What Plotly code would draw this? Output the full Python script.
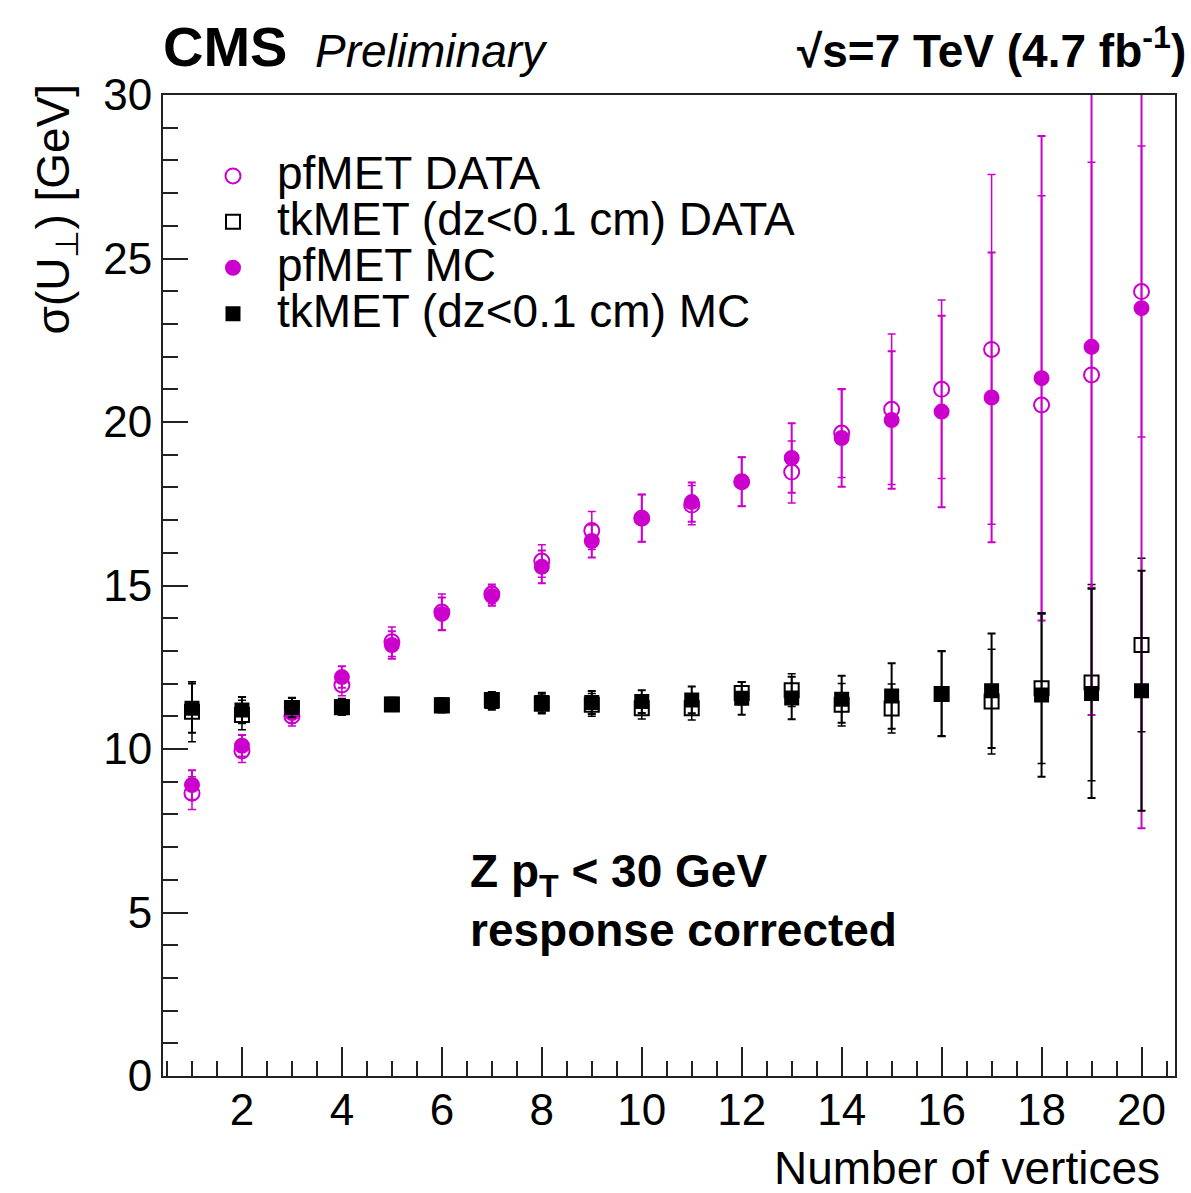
import plotly.graph_objects as go

# ---------------- data ----------------
n_vertices = list(range(1, 21))

pf_data = [8.65, 9.94, 11.0, 11.96, 13.28, 14.19, 14.74, 15.75, 16.68, 17.06,
           17.46, 18.17, 18.47, 19.66, 20.39, 21.0, 22.22, 20.52, 21.44, 23.99]
pf_data_err = [0.5, 0.35, 0.3, 0.33, 0.45, 0.55, 0.3, 0.5, 0.58, 0.72,
               0.6, 0.75, 0.95, 1.36, 2.3, 2.73, 5.35, 6.4, 6.5, 4.45]

pf_mc = [8.9, 10.1, 11.1, 12.2, 13.18, 14.13, 14.68, 15.57, 16.36, 17.06,
         17.55, 18.17, 18.9, 19.51, 20.06, 20.32, 20.75, 21.34, 22.3, 23.48]
pf_mc_err = [0.45, 0.33, 0.3, 0.33, 0.42, 0.5, 0.3, 0.5, 0.5, 0.72,
             0.6, 0.75, 1.06, 1.49, 2.1, 2.93, 4.43, 7.41, 11.26, 15.9]

tk_data = [11.14, 11.04, 11.25, 11.28, 11.36, 11.33, 11.5, 11.38, 11.35, 11.25,
           11.25, 11.71, 11.8, 11.35, 11.24, 11.68, 11.45, 11.86, 12.03, 13.18]
tk_data_err = [0.92, 0.45, 0.3, 0.25, 0.2, 0.22, 0.25, 0.3, 0.35, 0.33,
               0.36, 0.35, 0.5, 0.65, 0.75, 1.3, 1.6, 2.3, 3.0, 2.65]

tk_mc = [11.25, 11.19, 11.27, 11.29, 11.37, 11.35, 11.45, 11.42, 11.42, 11.45,
         11.5, 11.55, 11.56, 11.52, 11.62, 11.7, 11.78, 11.65, 11.7, 11.78]
tk_mc_err = [0.75, 0.4, 0.3, 0.25, 0.2, 0.2, 0.25, 0.3, 0.35, 0.35,
             0.41, 0.5, 0.65, 0.72, 1.0, 1.3, 1.75, 2.5, 3.2, 3.67]

legend_labels = ["pfMET DATA", "tkMET (dz<0.1 cm) DATA", "pfMET MC", "tkMET (dz<0.1 cm) MC"]

# ---------------- style ----------------
MAG = "#CC00CC"
BLK = "#000000"
FONT = "Liberation Sans, Arial, Helvetica, sans-serif"
FS = 46

W, H = 1191, 1193
L, R, T, B = 163, 16, 95, 117
PW, PH = W - L - R, H - T - B


def px_x(p):
    return (p - L) / PW


def px_y(p):
    return (H - B - p) / PH


def big(s):
    return f'<span style="font-size:{FS}px">{s}</span>'


fig = go.Figure()


def add(y, err, name, symbol, color, size, ew):
    fig.add_trace(go.Scatter(
        x=n_vertices, y=y, mode="markers", name=big(name.replace("<", "&lt;")),
        marker=dict(symbol=symbol, color=color, size=size,
                    line=dict(color=color, width=2)),
        error_y=dict(type="data", array=err, visible=True, color=color,
                     thickness=ew, width=4),
        cliponaxis=True,
    ))


add(pf_data, pf_data_err, legend_labels[0], "circle-open", MAG, 15, 1.5)
add(tk_data, tk_data_err, legend_labels[1], "square-open", BLK, 14, 1.5)
add(pf_mc, pf_mc_err, legend_labels[2], "circle", MAG, 14, 2)
add(tk_mc, tk_mc_err, legend_labels[3], "square", BLK, 13, 2)

axis_common = dict(
    showline=True, linecolor="#222222", linewidth=2, mirror=True,
    ticks="inside", tickcolor="#222222", tickwidth=2,
    showgrid=False, zeroline=False,
    tickfont=dict(family=FONT, size=44, color="black"),
)

fig.update_xaxes(range=[0.42, 20.67], tick0=0, dtick=2, ticklen=29,
                 minor=dict(dtick=0.5, ticklen=15, ticks="inside",
                            tickcolor="#222222", tickwidth=2),
                 ticklabelstandoff=-6, **axis_common)
fig.update_yaxes(range=[0, 30], tick0=0, dtick=5, ticklen=25,
                 minor=dict(dtick=1, ticklen=15, ticks="inside",
                            tickcolor="#222222", tickwidth=2),
                 ticklabelstandoff=0, **axis_common)

ann = [
    dict(text="<b>CMS</b>", x=px_x(161), y=px_y(47), xanchor="left", yanchor="middle",
         font=dict(family=FONT, size=56, color="black")),
    dict(text="<i>Preliminary</i>", x=px_x(313), y=px_y(51), xanchor="left", yanchor="middle",
         font=dict(family=FONT, size=FS, color="black")),
    dict(text="<b>√s=7 TeV (4.7 fb<sup>-1</sup>)</b>", x=px_x(1188), y=px_y(48),
         xanchor="right", yanchor="middle",
         font=dict(family=FONT, size=FS, color="black")),
    dict(text="<b>Z p<sub>T</sub> &lt; 30 GeV</b>", x=px_x(468), y=px_y(874),
         xanchor="left", yanchor="middle",
         font=dict(family=FONT, size=FS, color="black")),
    dict(text="<b>response corrected</b>", x=px_x(468), y=px_y(930),
         xanchor="left", yanchor="middle",
         font=dict(family=FONT, size=FS, color="black")),
    dict(text="Number of vertices", x=px_x(1162), y=px_y(1168),
         xanchor="right", yanchor="middle",
         font=dict(family=FONT, size=FS, color="black")),
    dict(text="σ(U<sub>⊥</sub>) [GeV]", x=px_x(56), y=px_y(82),
         xanchor="center", yanchor="top", textangle=-90,
         font=dict(family=FONT, size=FS, color="black")),
]
for a in ann:
    a.update(xref="paper", yref="paper", showarrow=False)

fig.update_layout(
    width=W, height=H,
    margin=dict(l=L, r=R, t=T, b=B, autoexpand=False),
    paper_bgcolor="white", plot_bgcolor="white",
    annotations=ann,
    showlegend=True,
    legend=dict(x=px_x(189), y=px_y(148), xanchor="left", yanchor="top",
                bgcolor="rgba(0,0,0,0)", borderwidth=0,
                font=dict(family=FONT, size=33, color="black"),
                itemwidth=78, tracegroupgap=0),
)

fig.write_html("out.html",
               config={"displayModeBar": False},
               post_script="document.body.style.margin='0';document.body.style.overflow='hidden';")
